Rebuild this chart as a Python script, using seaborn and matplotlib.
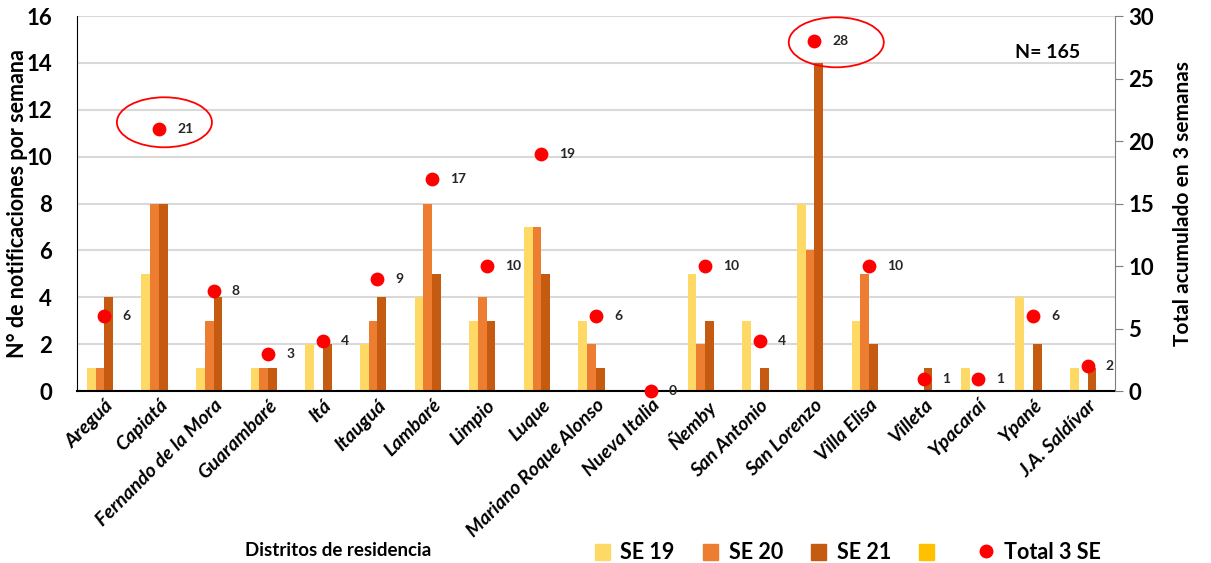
import numpy as np
import pandas as pd
import matplotlib
matplotlib.use("Agg")
import matplotlib.pyplot as plt
from matplotlib.patches import Patch, Ellipse
from matplotlib.lines import Line2D
import seaborn as sns

distritos = ["Areguá", "Capiatá", "Fernando de la Mora", "Guarambaré", "Itá", "Itauguá",
             "Lambaré", "Limpio", "Luque", "Mariano Roque Alonso", "Nueva Italia", "Ñemby",
             "San Antonio", "San Lorenzo", "Villa Elisa", "Villeta", "Ypacaraí", "Ypané",
             "J.A. Saldívar"]
se19 = [1, 5, 1, 1, 2, 2, 4, 3, 7, 3, 0, 5, 3, 8, 3, 0, 1, 4, 1]
se20 = [1, 8, 3, 1, 0, 3, 8, 4, 7, 2, 0, 2, 0, 6, 5, 0, 0, 0, 0]
se21 = [4, 8, 4, 1, 2, 4, 5, 3, 5, 1, 0, 3, 1, 14, 2, 1, 0, 2, 1]
total = [6, 21, 8, 3, 4, 9, 17, 10, 19, 6, 0, 10, 4, 28, 10, 1, 1, 6, 2]
series = ["SE 19", "SE 20", "SE 21", " "]
colores = ["#FFD966", "#ED7D31", "#C55A11", "#FFC000"]

plt.rcParams['font.family'] = ['Lato', 'DejaVu Sans']
plt.rcParams['font.weight'] = 'bold'

# long form table, 4th series is the empty one from the original chart
df = pd.DataFrame({
    "distrito": distritos * 4,
    "serie": [s for s in series for _ in distritos],
    "casos": se19 + se20 + se21 + [0] * len(distritos),
})

fig = plt.figure(figsize=(12.11, 5.63), dpi=100)
ax = fig.add_axes([0.0636, 0.3055, 0.857, 0.666])
sns.barplot(data=df, x="distrito", y="casos", hue="serie", palette=colores,
            width=0.64, saturation=1, legend=False, ax=ax)
ax.set_ylim(0, 16)
ax.set_xlim(-0.5, len(distritos) - 0.5)
ax.set_yticks(range(0, 17, 2))
ax.yaxis.grid(True, color="#D9D9D9", linewidth=1.5)
ax.set_axisbelow(True)
ax.tick_params(axis="y", length=0, labelsize=16, pad=18)
ax.tick_params(axis="x", length=0, pad=4)
ax.set_xticks(range(len(distritos)))
ax.set_xticklabels(distritos, rotation=45, ha="right", rotation_mode="anchor",
                   fontsize=14, fontweight="bold", fontstyle="italic")
ax.set_xlabel("")
ax.set_ylabel("N° de notificaciones por semana", fontsize=15.5, fontweight="bold")
ax.yaxis.set_label_coords(-0.047, 0.5)
for s in ["top", "right"]:
    ax.spines[s].set_visible(False)
ax.spines["left"].set_color("black")
ax.spines["bottom"].set_color("black")
ax.spines["bottom"].set_linewidth(1.5)

ax2 = ax.twinx()
x = np.arange(len(distritos))
ax2.scatter(x, total, color="#FF0000", s=80, zorder=5, clip_on=False)
for xi, t in zip(x, total):
    ax2.text(xi + 0.33, t, str(t), ha="left", va="center", fontsize=10,
             fontweight="bold", color="#262626")
ax2.set_ylim(0, 30)
ax2.set_yticks(range(0, 31, 5))
ax2.tick_params(axis="y", labelsize=16, length=6, color="#7F7F7F")
ax2.set_ylabel("Total acumulado en 3 semanas", fontsize=15, fontweight="bold", labelpad=14)
for s in ["top", "left", "bottom"]:
    ax2.spines[s].set_visible(False)
ax2.spines["right"].set_color("#7F7F7F")

# circled highlights
for cx, cy in [(1.1, 21.5), (13.4, 27.9)]:
    ax2.add_patch(Ellipse((cx, cy), 1.74, 4.0, fill=False, edgecolor="#FF0000",
                          linewidth=1.3, clip_on=False, zorder=6))

fig.text(0.865, 0.907, "N= 165", fontsize=14, fontweight="bold", ha="center", va="center")
fig.text(0.202, 0.012, "Distritos de residencia", fontsize=13.5, fontweight="bold")

handles = [Patch(color=c, label=s) for c, s in zip(colores, series)]
handles.append(Line2D([], [], marker="o", color="none", markerfacecolor="#FF0000",
                      markeredgecolor="#FF0000", markersize=9, label="Total 3 SE"))
fig.legend(handles=handles, loc="lower left", bbox_to_anchor=(0.475, -0.035), ncol=5,
           frameon=False, fontsize=15.5, handlelength=0.7, handleheight=0.8,
           columnspacing=1.3, handletextpad=0.5)

fig.savefig("out.png", dpi=100)
